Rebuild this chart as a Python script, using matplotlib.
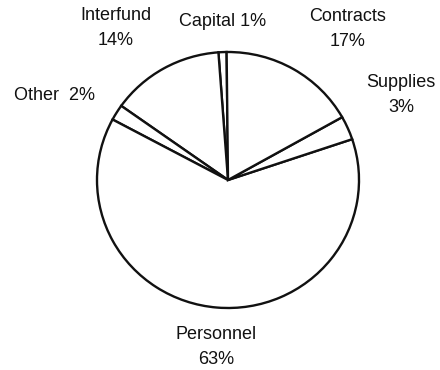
import matplotlib.pyplot as plt

# Budget share by category (percent)
categories = ["Capital", "Interfund", "Other", "Personnel", "Supplies", "Contracts"]
shares = [1, 14, 2, 63, 3, 17]
label_texts = ["Capital 1%", "Interfund\n14%", "Other  2%", "Personnel\n63%", "Supplies\n3%", "Contracts\n17%"]

# label centres in pixels (x, y from top)
label_pos = [(223, 22), (116, 28), (54, 96), (216, 347), (401, 95), (348, 29)]

plt.rcParams['font.family'] = ['Liberation Sans', 'DejaVu Sans']

W, H = 440, 370
fig = plt.figure(figsize=(W / 100, H / 100), dpi=100)
fig.patch.set_facecolor('white')

cx, cy, rx, ry = 228, 180, 131, 128
ax = fig.add_axes([(cx - rx) / W, 1 - (cy + ry) / H, 2 * rx / W, 2 * ry / H])
ax.pie(shares, startangle=90.6, counterclock=True, colors=['white'] * len(shares),
       wedgeprops=dict(edgecolor='#111111', linewidth=1.7), radius=1.0)
ax.set_xlim(-1.0, 1.0)
ax.set_ylim(-1.0, 1.0)
ax.set_aspect('auto')
ax.axis('off')

for txt, (x, y) in zip(label_texts, label_pos):
    fig.text(x / W, 1 - y / H, txt, ha='center', va='center', fontsize=13,
             color='#111111', linespacing=1.6)

fig.savefig('out.png', dpi=100, facecolor='white')
